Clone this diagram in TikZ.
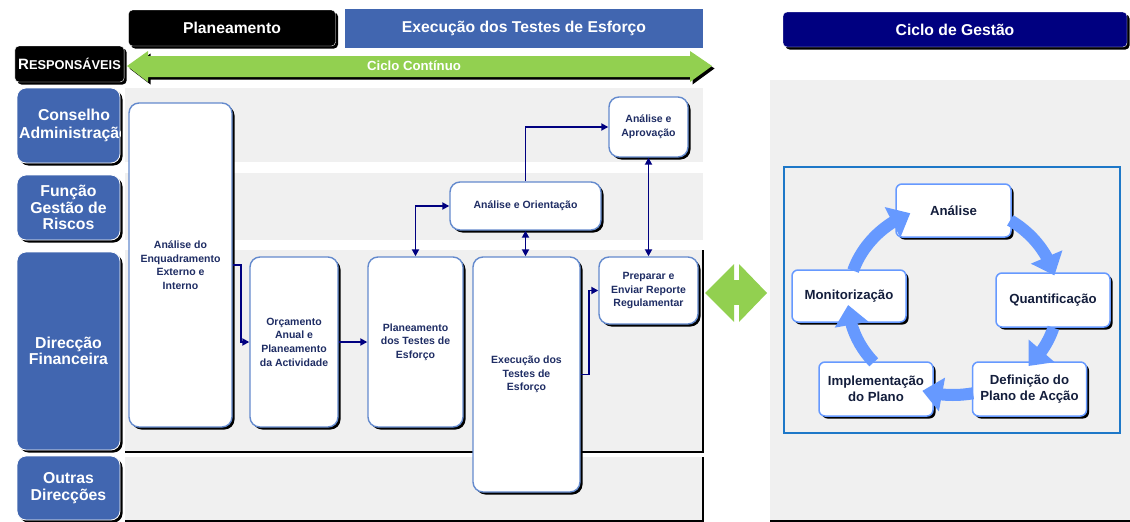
\documentclass[tikz,border=0pt]{standalone}
\usepackage{fontspec}
\setmainfont{Liberation Sans}
\usetikzlibrary{
    arrows.meta,
    bending,
    shadows
}
\definecolor{lanegray}{RGB}{240,240,240}
\definecolor{laneblue}{RGB}{65,102,176}
\definecolor{headnavy}{RGB}{0,0,128}
\definecolor{cyclegreen}{RGB}{146,208,80}
\definecolor{boxedge}{RGB}{100,138,205}
\definecolor{boxtext}{RGB}{31,45,100}
\definecolor{cycleblue}{RGB}{102,153,255}
\definecolor{framecolor}{RGB}{30,120,200}
\definecolor{cycletext}{RGB}{20,30,60}
\tikzset{
    % Shadows
    hard shadow/.style={drop shadow={shadow xshift=2.5pt,shadow yshift=-2.5pt,opacity=1,fill=black}},
    %
    % Headers and lanes
    header/.style={minimum height=36pt,text=white,font=\fontsize{15.7}{18}\selectfont\bfseries},
    lanelabel/.style={hard shadow,fill=laneblue,draw=white,thick,rounded corners=9pt,text=white,align=center,minimum width=103pt,font=\fontsize{15.8}{16.5}\selectfont\bfseries},
    lane/.style={fill=lanegray},
    laneedge/.style={line width=2pt},
    %
    % Process boxes
    procbox/.style={hard shadow,fill=white,draw=boxedge,line width=1.4pt,rounded corners=10pt,align=center,text=boxtext,font=\fontsize{10.5}{13.6}\selectfont\bfseries},
    cyclebox/.style={hard shadow,fill=white,draw=cycleblue,line width=1.5pt,rounded corners=6pt,align=center,minimum width=114pt,minimum height=54pt,text=cycletext,font=\fontsize{13.2}{15.5}\selectfont\bfseries},
    %
    % Arrows
    arrow tip/.tip={Triangle[length=7pt,width=7pt]},
    conn/.style={headnavy,line width=1.8pt},
    arr/.style={conn,-{arrow tip}},
    darr/.style={conn,{arrow tip}-{arrow tip}},
    cycarr/.style={cycleblue,line width=12pt,-{Triangle[length=20pt,width=33pt]}},
}
\tikzstyle{every node}=[font=\bfseries]

\begin{document}
\begin{tikzpicture}[x=1pt,y=-1pt]
    \useasboundingbox (0,0) rectangle (1130,522);
    % lanes
    \fill[lane] (125,88) rectangle (703,162);
    \fill[lane] (125,173) rectangle (703,240);
    \fill[lane] (125,250) rectangle (703,451);
    \fill[lane] (125,457) rectangle (703,521);
    \fill[lane] (770,80) rectangle (1130,521);
    \draw[laneedge] (703,250) -- (703,452) -- (125,452);
    \draw[laneedge] (703,457) -- (703,521) -- (125,521);
    \draw[laneedge] (770,521) -- (1130,521);

    % headers
    \node[header,hard shadow,fill=black,draw=white,rounded corners=4pt,minimum width=207pt] (plan) at (232,28) {Planeamento};
    \node[header,fill=laneblue,minimum width=358pt,minimum height=39pt] (exec) at (524,28.5) {Execução dos Testes de Esforço};
    \node[header,hard shadow,fill=headnavy,draw=white,rounded corners=4pt,minimum width=344pt,minimum height=35pt] (gest) at (955,29.5) {Ciclo de Gestão};
    \node[hard shadow,fill=black,draw=white,rounded corners=4pt,minimum width=105pt,minimum height=36pt,text=white] (resp) at (69.5,64)
        {\fontsize{15}{18}\selectfont R\fontsize{12.8}{18}\selectfont ESPONSÁVEIS};
    \fill[cyclegreen,hard shadow] (127,66) -- (148,51) -- (148,56) -- (690,56) -- (690,51) -- (712,66)
        -- (690,82) -- (690,77) -- (148,77) -- (148,82) -- cycle;
    \node[text=white,font=\fontsize{13.2}{15}\selectfont\bfseries] (ciclo) at (414,65.5) {Ciclo Contínuo};

    % responsible lanes
    \node[lanelabel,minimum height=75pt,path picture={
        \node[text=white,align=center,font=\fontsize{15.8}{18.5}\selectfont\bfseries]
            at ([xshift=5.5pt]path picture bounding box.center) {Conselho\\Administração};}] (cons) at (68.5,125.5) {};
    \node[lanelabel,minimum height=65pt] (func) at (68.5,207.5) {Função\\Gestão de\\Riscos};
    \node[lanelabel,minimum height=198pt] (dirf) at (68.5,351) {Direcção\\Financeira};
    \node[lanelabel,minimum height=64pt] (outr) at (68.5,488) {Outras\\Direcções};

    % process
    \node[procbox,minimum width=103pt,minimum height=324pt] (enquad) at (180.5,265) {Análise do\\Enquadramento\\Externo e\\Interno};
    \node[procbox,minimum width=88pt,minimum height=170pt] (orcam) at (294,342) {Orçamento\\Anual e\\Planeamento\\da Actividade};
    \node[procbox,minimum width=95pt,minimum height=170pt] (planTE) at (415.5,342) {Planeamento\\dos Testes de\\Esforço};
    \node[procbox,minimum width=107pt,minimum height=235pt] (execTE) at (526.5,374.5) {Execução dos\\Testes de\\Esforço};
    \node[procbox,minimum width=99pt,minimum height=67pt] (reporte) at (648.5,290.5) {Preparar e\\Enviar Reporte\\Regulamentar};
    \node[procbox,minimum width=151pt,minimum height=48pt] (orient) at (525.5,206) {Análise e Orientação};
    \node[procbox,minimum width=79pt,minimum height=60pt] (aprov) at (648.5,127) {Análise e\\Aprovação};

    \draw[arr] (enquad.east) -- ++(8,0) |- (orcam.west);
    \draw[arr] (orcam) -- (planTE);
    \draw[darr] (planTE.north) |- (orient.west);
    \draw[darr] (orient.south) -- (orient.south |- execTE.north);
    \draw[arr] (orient.north) |- (aprov.west);
    \draw[darr] (aprov.south) -- (reporte.north);
    \draw[arr] (execTE.east) -- ++(8,0) |- (reporte.west);

    % link to the cycle
    \fill[cyclegreen] (705,293) -- (734,264) -- (734,322) -- cycle;
    \fill[cyclegreen] (767,293) -- (739,264) -- (739,322) -- cycle;
    \fill[cyclegreen] (733,280) rectangle (740,305);

    % management cycle
    \draw[framecolor,line width=1.2pt] (784,167) rectangle (1120,433);
    \node[cyclebox,minimum width=115pt,minimum height=53pt] (anal) at (953.5,210.5) {Análise};
    \node[cyclebox] (quant) at (1053,300) {Quantificação};
    \node[cyclebox] (defin) at (1029.5,389) {Definição do\\Plano de Acção};
    \node[cyclebox] (impl) at (876,389) {Implementação\\do Plano};
    \node[cyclebox,minimum height=52pt] (monit) at (849,296) {Monitorização};
    \coordinate (cc) at (953,300);
    \foreach \a/\b in {-57/-15, 17/44, 79/107, 139/177, 198/246}
        \draw[cycarr] (cc) ++(\a:105 and 95) arc[start angle=\a, end angle=\b, x radius=105, y radius=95];
\end{tikzpicture}
\end{document}
